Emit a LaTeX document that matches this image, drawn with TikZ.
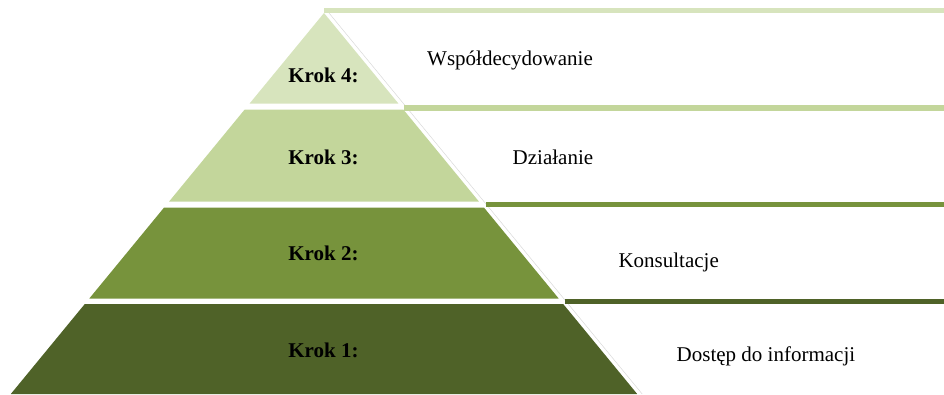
\documentclass[tikz,border=0pt]{standalone}
\usepackage{fontspec}
\setmainfont{Liberation Serif}
\definecolor{lvA}{HTML}{D7E4BD}
\definecolor{lvB}{HTML}{C3D69B}
\definecolor{lvC}{HTML}{77933C}
\definecolor{lvD}{HTML}{4F6228}
\begin{document}
\begin{tikzpicture}[x=1pt,y=-1pt,
  steplabel/.style={anchor=base,inner sep=0pt,font=\fontsize{21}{25}\selectfont\bfseries},
  desclabel/.style={anchor=base west,inner sep=0pt,font=\fontsize{21}{25}\selectfont},
  edgeline/.style={draw=black!15,line width=0.5pt}]
\useasboundingbox (0,0) rectangle (944,394);
% pyramid levels
\fill[lvA] (324,13) -- (398.4,103.5) -- (249.6,103.5) -- cycle;
\fill[lvB] (244.7,109.5) -- (403.3,109.5) -- (478.9,201.5) -- (169.1,201.5) -- cycle;
\fill[lvC] (164.1,207.5) -- (483.9,207.5) -- (558.7,298.5) -- (89.3,298.5) -- cycle;
\fill[lvD] (84.8,304) -- (563.2,304) -- (637.2,394) -- (10.8,394) -- cycle;
% faint edge line
\draw[edgeline] (329,13) -- (642.2,394);
% horizontal bars
\fill[lvA] (324,8) rectangle (944,13.3);
\fill[lvB] (404,105) rectangle (944,110.5);
\fill[lvC] (486,202) rectangle (944,207.3);
\fill[lvD] (565,299) rectangle (944,304.3);
% labels
\node[steplabel] (k4) at (323.5,82) {Krok 4:};
\node[steplabel] (k3) at (323.5,164) {Krok 3:};
\node[steplabel] (k2) at (323.5,260.7) {Krok 2:};
\node[steplabel] (k1) at (323.5,357.3) {Krok 1:};
\node[desclabel] (d4) at (427,65) {Współdecydowanie};
\node[desclabel] (d3) at (512.5,164) {Działanie};
\node[desclabel] (d2) at (618.3,267.3) {Konsultacje};
\node[desclabel] (d1) at (676.5,361) {Dostęp do informacji};
\end{tikzpicture}
\end{document}
